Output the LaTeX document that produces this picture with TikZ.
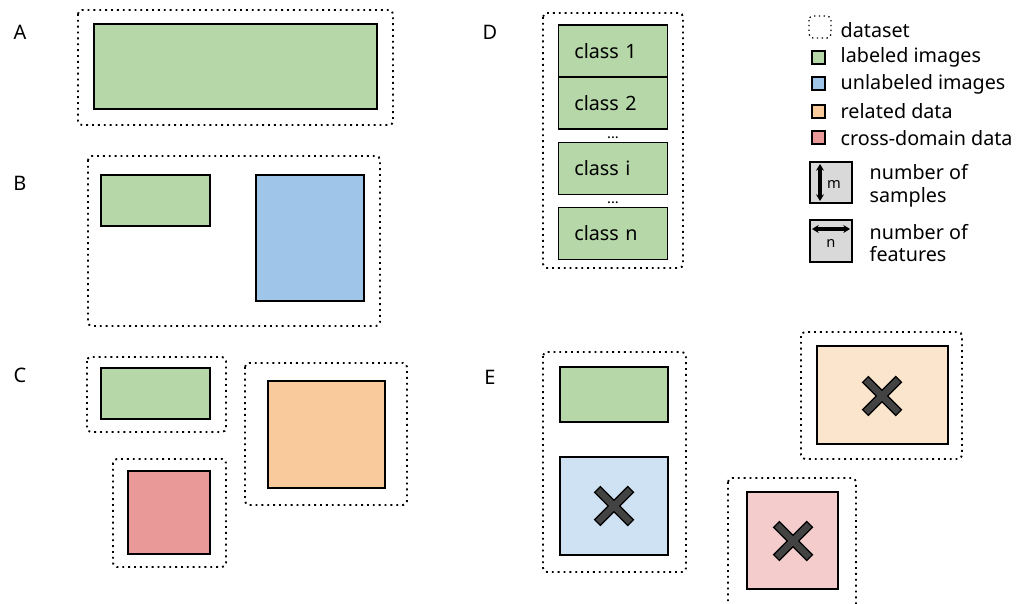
\documentclass[tikz,border=0pt]{standalone}
\usepackage{fontspec}
\setmainfont{Noto Sans}
\usepackage{xcolor}
\usetikzlibrary{arrows.meta,calc}

\definecolor{labgreen}{HTML}{B6D7A8}
\definecolor{unlblue}{HTML}{9FC5E8}
\definecolor{relorange}{HTML}{F9CB9C}
\definecolor{crossred}{HTML}{EA9999}
\definecolor{paleblue}{HTML}{CFE2F3}
\definecolor{paleorange}{HTML}{FCE5CD}
\definecolor{palered}{HTML}{F4CCCC}
\definecolor{markgray}{HTML}{434343}
\definecolor{iconback}{HTML}{D9D9D9}

\tikzset{
  dataset/.style={draw, line width=1.4pt, dash pattern=on 1.4pt off 3pt, rounded corners=3pt},
  block/.style={draw, line width=0.9pt},
  classbox/.style={block, fill=labgreen, minimum width=81pt, minimum height=39pt,
    inner xsep=12pt, text width=58pt, align=left},
  panel/.style={font=\fontsize{15}{17}\selectfont},
  legtext/.style={anchor=west, align=left, font=\fontsize{14.8}{17}\selectfont},
  gapdots/.style={anchor=base, inner sep=0pt, font=\fontsize{11}{11}\selectfont}
}

\newcommand{\crossout}[1]{%
  \draw[line width=7pt, line cap=butt] ($(#1)+(-17,-17)$) -- ($(#1)+(17,17)$);
  \draw[line width=7pt, line cap=butt] ($(#1)+(-17,17)$) -- ($(#1)+(17,-17)$);
  \draw[markgray, line width=5pt, line cap=butt] ($(#1)+(-16,-16)$) -- ($(#1)+(16,16)$);
  \draw[markgray, line width=5pt, line cap=butt] ($(#1)+(-16,16)$) -- ($(#1)+(16,-16)$);
}

\begin{document}
\begin{tikzpicture}[x=0.75pt, y=-0.75pt, font=\fontsize{14.8}{17}\selectfont]
\useasboundingbox (0,0) rectangle (1016,603);

% panel letters
\node[panel] (labA) at (20,32) {A};
\node[panel] (labB) at (20,183) {B};
\node[panel] (labC) at (20,375) {C};
\node[panel] (labD) at (490,32) {D};
\node[panel] (labE) at (490,377) {E};

% A
\draw[dataset] (78,10) rectangle (393,125);
\draw[block, fill=labgreen] (94,24) rectangle (377,109);

% B
\draw[dataset] (88,156) rectangle (380,326);
\draw[block, fill=labgreen] (101,175) rectangle (210,226);
\draw[block, fill=unlblue] (256,175) rectangle (364,301);

% C
\draw[dataset] (87,357) rectangle (226,432);
\draw[block, fill=labgreen] (101,368) rectangle (210,419);
\draw[dataset] (245,363) rectangle (407,505);
\draw[block, fill=relorange] (268,381) rectangle (385,488);
\draw[dataset] (113,459) rectangle (226,567);
\draw[block, fill=crossred] (128,471) rectangle (210,554);

% D
\draw[dataset] (543,13) rectangle (683,268);
\node[classbox] (cls1) at (613,51) {class 1};
\node[classbox] (cls2) at (613,103) {class 2};
\node[gapdots] (dots1) at (613,138) {...};
\node[classbox] (clsi) at (613,168.5) {class i};
\node[gapdots] (dots2) at (613,203) {...};
\node[classbox] (clsn) at (613,233.5) {class n};

% E
\draw[dataset] (543,352) rectangle (686,572);
\draw[block, fill=labgreen] (560,367) rectangle (668,422);
\draw[block, fill=paleblue] (560,457) rectangle (668,555);
\crossout{614,506}
\draw[dataset] (801,332) rectangle (962,459);
\draw[block, fill=paleorange] (817,346) rectangle (948,444);
\crossout{882,396}
\draw[dataset] (728,478) rectangle (856,610);
\draw[block, fill=palered] (747,492) rectangle (838,589);
\crossout{793,541}

% legend
\draw[dataset, line width=1pt, dash pattern=on 1pt off 2.6pt] (809,16) rectangle (831,38);
\node[legtext] (legset) at (836,30) {dataset};
\draw[block, fill=labgreen] (812,51) rectangle (825,64);
\node[legtext] (leglab) at (836,57) {labeled images};
\draw[block, fill=unlblue] (812,77) rectangle (825,90);
\node[legtext] (legunl) at (836,84) {unlabeled images};
\draw[block, fill=relorange] (812,105) rectangle (825,118);
\node[legtext] (legrel) at (836,111) {related data};
\draw[block, fill=crossred] (812,131) rectangle (825,144);
\node[legtext] (legcross) at (836,138) {cross-domain data};

\draw[block, fill=iconback] (810,162) rectangle (852,203);
\draw[line width=2.4pt, {Stealth[length=5pt,width=6pt]}-{Stealth[length=5pt,width=6pt]}] (820,164) -- (820,201);
\node[font=\fontsize{11}{12}\selectfont] (legm) at (834,184) {m};
\node[legtext] (legsamp) at (865,186) {number of\\samples};

\draw[block, fill=iconback] (810,220) rectangle (852,262);
\draw[line width=2.4pt, {Stealth[length=5pt,width=6pt]}-{Stealth[length=5pt,width=6pt]}] (812,229) -- (850,229);
\node[font=\fontsize{11}{12}\selectfont] (legn) at (831,243) {n};
\node[legtext] (legfeat) at (865,243) {number of\\features};
\end{tikzpicture}
\end{document}
